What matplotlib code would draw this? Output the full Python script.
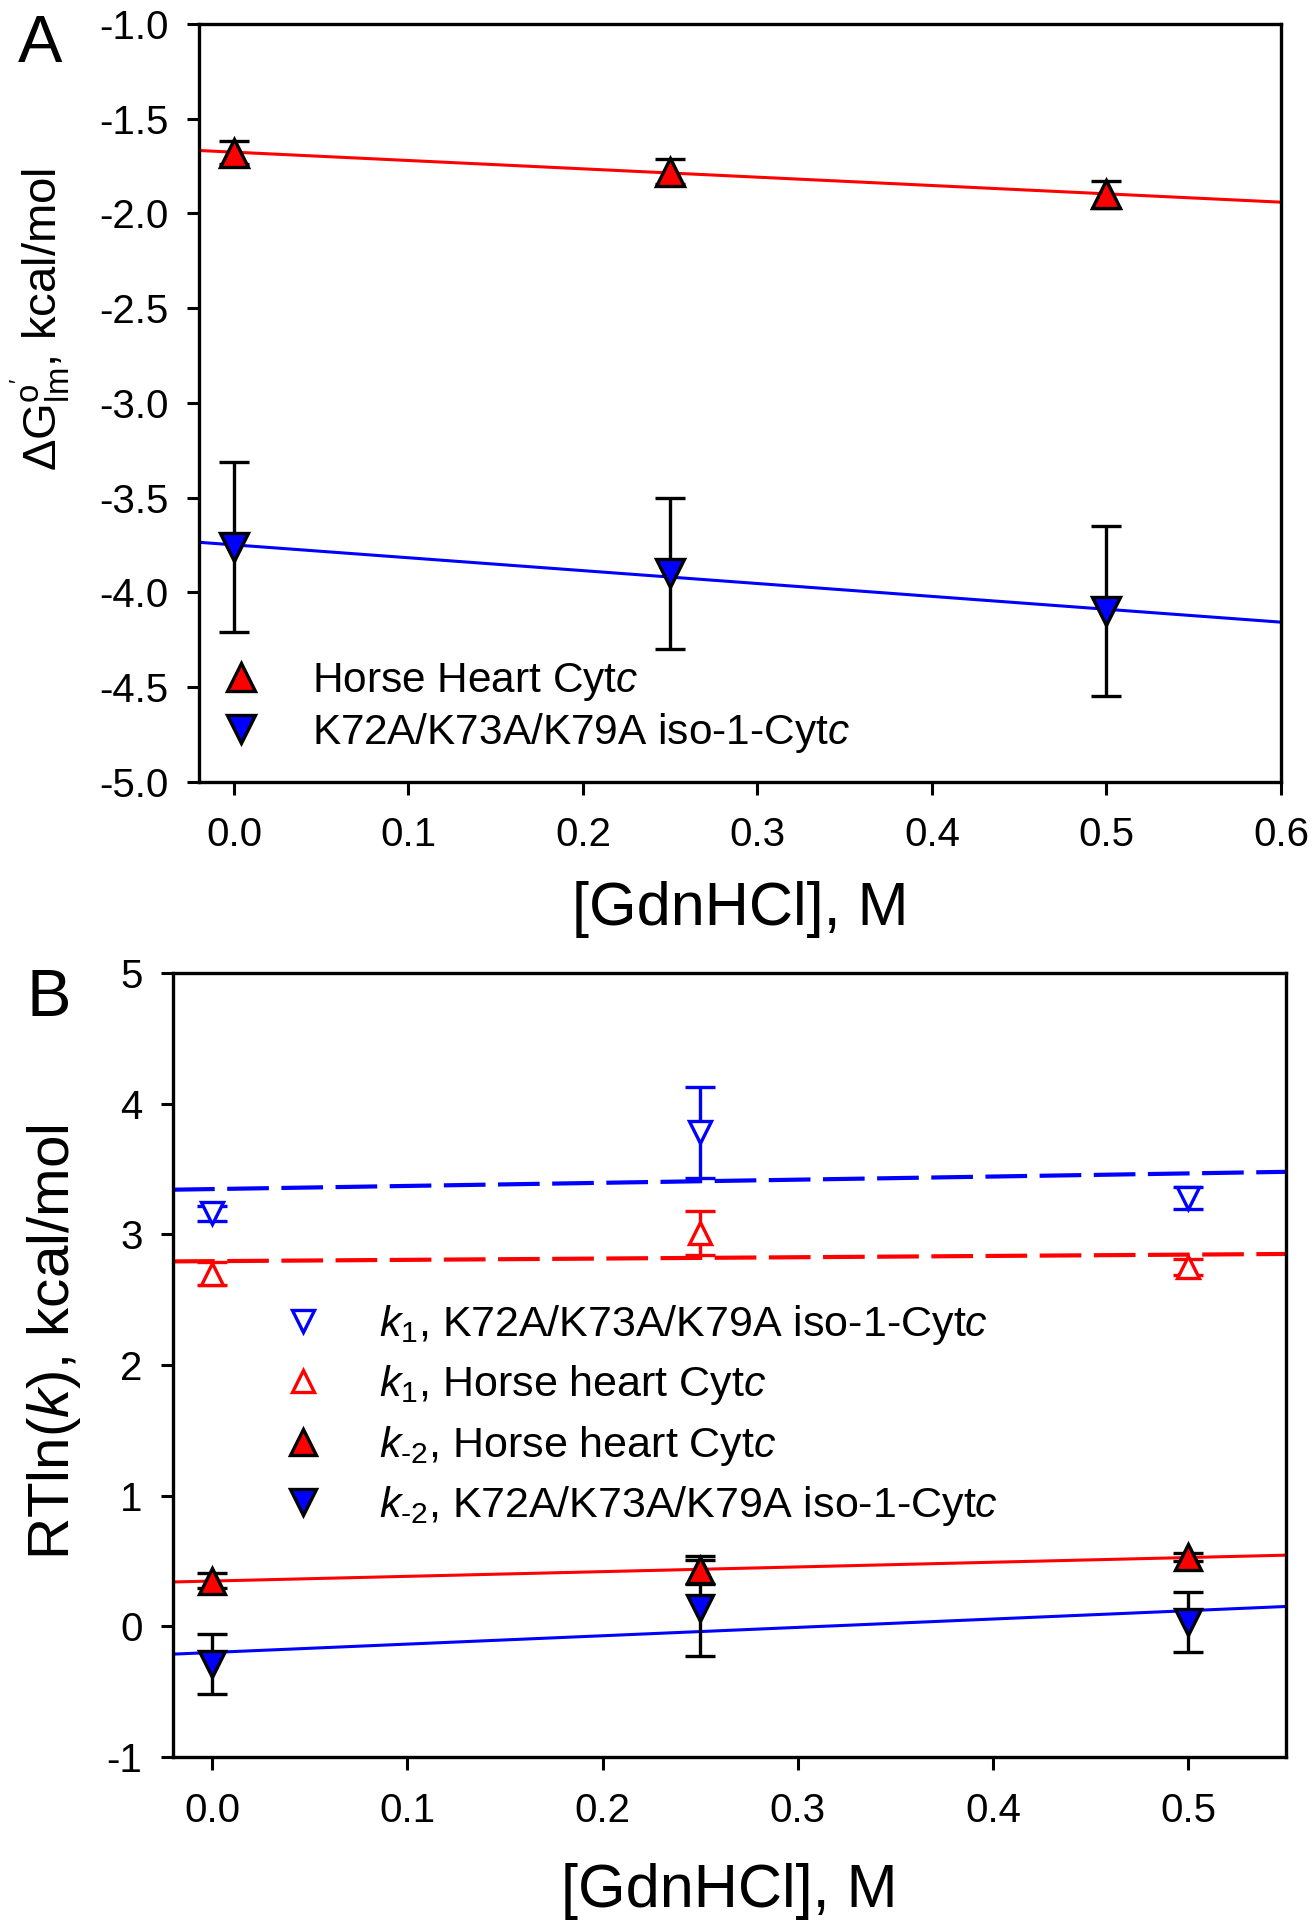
import matplotlib
matplotlib.use('Agg')
import matplotlib.pyplot as plt
import numpy as np

plt.rcParams['font.family'] = ['Liberation Sans', 'DejaVu Sans']
plt.rcParams['mathtext.fontset'] = 'custom'
plt.rcParams['mathtext.rm'] = 'Liberation Sans'
plt.rcParams['mathtext.it'] = 'Liberation Sans:italic'
plt.rcParams['mathtext.bf'] = 'Liberation Sans:bold'
plt.rcParams['axes.unicode_minus'] = False

# [GdnHCl], M
gdn = [0.0, 0.25, 0.5]

# panel A: dG'lm, kcal/mol
hh_dg = [-1.68, -1.78, -1.90]
hh_dg_err = [0.06, 0.065, 0.07]
iso_dg = [-3.76, -3.90, -4.10]
iso_dg_err = [0.45, 0.40, 0.45]

# panel B: RTln(k), kcal/mol
iso_k1 = [3.16, 3.78, 3.28]
iso_k1_err = [0.06, 0.35, 0.085]
hh_k1 = [2.70, 3.01, 2.75]
hh_k1_err = [0.09, 0.17, 0.06]
hh_km2 = [0.35, 0.43, 0.53]
hh_km2_err = [0.06, 0.105, 0.03]
iso_km2 = [-0.29, 0.14, 0.03]
iso_km2_err = [0.23, 0.37, 0.23]

RED = '#ff0000'
BLUE = '#0000ff'
TICK_FS = 29


def style_axes(ax):
    for sp in ax.spines.values():
        sp.set_linewidth(2.4)
    ax.tick_params(axis='both', direction='out', length=9, width=2.2,
                   labelsize=TICK_FS, top=False, right=False)
    ax.tick_params(axis='y', pad=13)
    ax.tick_params(axis='x', pad=16)


def fit_line(ax, x, y, xlim, **kw):
    slope, icpt = np.polyfit(x, y, 1)
    xs = np.array(xlim)
    ax.plot(xs, icpt + slope * xs, **kw)


def draw_points(ax, x, y, err, marker, face, edge, ecolor, ms, label):
    ax.errorbar(x, y, yerr=err, fmt='none', ecolor=ecolor, elinewidth=2.4,
                capsize=11, capthick=2.4, zorder=3)
    ax.plot(x, y, linestyle='none', marker=marker, markersize=ms,
            markerfacecolor=face, markeredgecolor=edge, markeredgewidth=2.4,
            zorder=4, label=label)


fig = plt.figure(figsize=(13.13, 19.2), dpi=100)

# ---------- panel A ----------
axA = fig.add_axes([0.1516, 0.5929, 0.8240, 0.3946])
xlimA = (-0.02, 0.6)
fit_line(axA, gdn, hh_dg, xlimA, color=RED, lw=2.2, zorder=2)
fit_line(axA, gdn, iso_dg, xlimA, color=BLUE, lw=2.2, zorder=2)
draw_points(axA, gdn, hh_dg, hh_dg_err, '^', RED, 'black', 'black', 20,
            r'Horse Heart Cyt$\it{c}$')
draw_points(axA, gdn, iso_dg, iso_dg_err, 'v', BLUE, 'black', 'black', 20,
            r'K72A/K73A/K79A iso-1-Cyt$\it{c}$')
axA.set_xlim(*xlimA)
axA.set_ylim(-5.0, -1.0)
axA.set_xticks(np.arange(0, 0.61, 0.1))
axA.set_yticks(np.arange(-5.0, -0.99, 0.5))
axA.xaxis.set_major_formatter(matplotlib.ticker.FormatStrFormatter('%.1f'))
axA.yaxis.set_major_formatter(matplotlib.ticker.FormatStrFormatter('%.1f'))
style_axes(axA)
axA.set_xlabel('[GdnHCl], M', fontsize=44, va='center')
axA.xaxis.set_label_coords(0.5, -0.169)
axA.set_ylabel(r"$\Delta$G$^{\mathrm{o'}}_{\mathrm{lm}}$, kcal/mol",
               fontsize=34, va='center')
axA.yaxis.set_label_coords(-0.1465, 0.61)
axA.legend(loc='upper left', bbox_to_anchor=(0.0194, 0.159), frameon=False,
           fontsize=30.5, handlelength=1.0, handletextpad=1.17,
           borderpad=0, borderaxespad=0, labelspacing=0.19, numpoints=1)

# ---------- panel B ----------
axB = fig.add_axes([0.1318, 0.0849, 0.8476, 0.4083])
xlimB = (-0.02, 0.55)
fit_line(axB, gdn, iso_k1, xlimB, color=BLUE, lw=3, dashes=(10, 3), zorder=2)
fit_line(axB, gdn, hh_k1, xlimB, color=RED, lw=3, dashes=(10, 3), zorder=2)
fit_line(axB, gdn, hh_km2, xlimB, color=RED, lw=2.2, zorder=2)
fit_line(axB, gdn, iso_km2, xlimB, color=BLUE, lw=2.2, zorder=2)
draw_points(axB, gdn, iso_k1, iso_k1_err, 'v', 'white', BLUE, BLUE, 16,
            r'$k_{1}$, K72A/K73A/K79A iso-1-Cyt$\it{c}$')
draw_points(axB, gdn, hh_k1, hh_k1_err, '^', 'white', RED, RED, 16,
            r'$k_{1}$, Horse heart Cyt$\it{c}$')
draw_points(axB, gdn, hh_km2, hh_km2_err, '^', RED, 'black', 'black', 19,
            r'$k_{\text{-2}}$, Horse heart Cyt$\it{c}$')
draw_points(axB, gdn, iso_km2, iso_km2_err, 'v', BLUE, 'black', 'black', 19,
            r'$k_{\text{-2}}$, K72A/K73A/K79A iso-1-Cyt$\it{c}$')
axB.set_xlim(*xlimB)
axB.set_ylim(-1, 5)
axB.set_xticks(np.arange(0, 0.51, 0.1))
axB.set_yticks(np.arange(-1, 5.1, 1))
axB.xaxis.set_major_formatter(matplotlib.ticker.FormatStrFormatter('%.1f'))
style_axes(axB)
axB.set_xlabel('[GdnHCl], M', fontsize=44, va='center')
axB.xaxis.set_label_coords(0.5, -0.172)
axB.set_ylabel(r'RTln($k$), kcal/mol', fontsize=42, va='center')
axB.yaxis.set_label_coords(-0.107, 0.529)
axB.legend(loc='upper left', bbox_to_anchor=(0.0975, 0.579), frameon=False,
           fontsize=31, handlelength=1.0, handletextpad=1.27,
           borderpad=0, borderaxespad=0, labelspacing=0.38, numpoints=1)

fig.text(18 / 1313, 1 - 14 / 1920, 'A', fontsize=48, ha='left', va='top')
fig.text(27 / 1313, 1 - 968 / 1920, 'B', fontsize=48, ha='left', va='top')

fig.savefig('out.png', dpi=100, facecolor='white')
